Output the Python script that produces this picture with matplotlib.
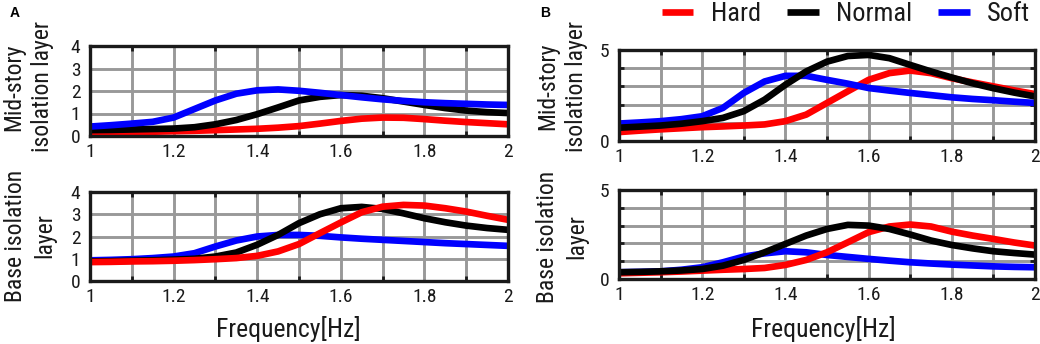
import matplotlib
matplotlib.use("Agg")
import matplotlib.pyplot as plt
from matplotlib.ticker import FixedLocator, FixedFormatter

FONT = ['Liberation Sans', 'DejaVu Sans']
NARROW = ['Liberation Sans Narrow', 'Arial Narrow', 'Roboto Condensed',
          'Archivo Narrow', 'PT Sans Narrow', 'Liberation Sans', 'DejaVu Sans']
plt.rcParams['font.family'] = FONT

freq = [1.00, 1.05, 1.10, 1.15, 1.20, 1.25, 1.30, 1.35, 1.40, 1.45, 1.50,
        1.55, 1.60, 1.65, 1.70, 1.75, 1.80, 1.85, 1.90, 1.95, 2.00]

# Panel A, mid-story isolation layer
a_mid_hard = [0.15, 0.16, 0.17, 0.19, 0.21, 0.23, 0.26, 0.29, 0.32, 0.37, 0.44,
              0.55, 0.67, 0.77, 0.82, 0.81, 0.75, 0.68, 0.62, 0.57, 0.52]
a_mid_normal = [0.26, 0.27, 0.29, 0.31, 0.33, 0.39, 0.52, 0.71, 0.97, 1.27, 1.58,
                1.74, 1.82, 1.79, 1.68, 1.53, 1.38, 1.24, 1.13, 1.06, 1.02]
a_mid_soft = [0.42, 0.48, 0.55, 0.63, 0.82, 1.20, 1.58, 1.88, 2.03, 2.07, 2.01,
              1.92, 1.82, 1.72, 1.63, 1.56, 1.50, 1.46, 1.43, 1.40, 1.38]

# Panel A, base isolation layer
a_base_hard = [0.85, 0.86, 0.88, 0.89, 0.91, 0.94, 0.98, 1.03, 1.13, 1.33, 1.66,
               2.15, 2.63, 3.09, 3.34, 3.42, 3.39, 3.27, 3.12, 2.93, 2.75]
a_base_normal = [0.88, 0.89, 0.91, 0.93, 0.96, 1.00, 1.10, 1.28, 1.63, 2.07, 2.60,
                 3.00, 3.27, 3.33, 3.24, 3.04, 2.82, 2.64, 2.49, 2.38, 2.30]
a_base_soft = [0.93, 0.95, 0.98, 1.03, 1.10, 1.25, 1.55, 1.82, 2.00, 2.07, 2.07,
               2.03, 1.96, 1.90, 1.85, 1.80, 1.75, 1.70, 1.66, 1.62, 1.58]

# Panel B, mid-story isolation layer
b_mid_hard = [0.49, 0.57, 0.64, 0.70, 0.76, 0.80, 0.85, 0.91, 1.09, 1.45, 2.09,
              2.73, 3.36, 3.73, 3.87, 3.73, 3.45, 3.22, 3.00, 2.78, 2.58]
b_mid_normal = [0.73, 0.79, 0.85, 0.95, 1.09, 1.27, 1.64, 2.27, 3.09, 3.82, 4.36,
                4.67, 4.73, 4.55, 4.18, 3.82, 3.49, 3.17, 2.90, 2.66, 2.45]
b_mid_soft = [0.96, 1.02, 1.09, 1.20, 1.36, 1.82, 2.64, 3.27, 3.58, 3.58, 3.36,
              3.15, 2.91, 2.77, 2.64, 2.52, 2.40, 2.31, 2.24, 2.16, 2.09]

# Panel B, base isolation layer
b_base_hard = [0.32, 0.35, 0.38, 0.42, 0.47, 0.52, 0.56, 0.62, 0.79, 1.07, 1.50,
               2.06, 2.63, 2.95, 3.06, 2.95, 2.66, 2.44, 2.25, 2.05, 1.88]
b_base_normal = [0.38, 0.40, 0.43, 0.48, 0.56, 0.75, 1.07, 1.50, 1.97, 2.44, 2.81,
                 3.04, 3.00, 2.81, 2.50, 2.16, 1.91, 1.72, 1.56, 1.46, 1.37]
b_base_soft = [0.38, 0.40, 0.43, 0.52, 0.66, 0.94, 1.26, 1.44, 1.56, 1.50, 1.35,
               1.24, 1.13, 1.03, 0.94, 0.87, 0.81, 0.76, 0.71, 0.68, 0.66]

series_names = ['Hard', 'Normal', 'Soft']
series_colors = {'Hard': '#ff0000', 'Normal': '#000000', 'Soft': '#0000ff'}

x_major = [1.0, 1.2, 1.4, 1.6, 1.8, 2.0]
x_major_labels = ['1', '1.2', '1.4', '1.6', '1.8', '2']
x_minor = [1.1, 1.2, 1.3, 1.4, 1.5, 1.6, 1.7, 1.8, 1.9]

a_y_major = [0, 1, 2, 3, 4]
a_y_labels = ['0', '1', '2', '3', '4']
b_y_major = [0, 5]
b_y_labels = ['0', '5']
b_y_minor = [1, 2, 3, 4]

W, H = 1040, 344
fig = plt.figure(figsize=(W / 100, H / 100), dpi=100)


def px_axes(l, t, r, b):
    return fig.add_axes([l / W, 1 - b / H, (r - l) / W, (b - t) / H])


GRID = '#999999'
INK = '#1a1a1a'


def style(ax, ymax, ymajor, ylabels, yminor):
    ax.set_xlim(1, 2)
    ax.set_ylim(0, ymax)
    ax.xaxis.set_major_locator(FixedLocator(x_major))
    ax.xaxis.set_major_formatter(FixedFormatter(x_major_labels))
    ax.xaxis.set_minor_locator(FixedLocator(x_minor))
    ax.yaxis.set_major_locator(FixedLocator(ymajor))
    ax.yaxis.set_major_formatter(FixedFormatter(ylabels))
    ax.yaxis.set_minor_locator(FixedLocator(yminor))
    for s in ax.spines.values():
        s.set_linewidth(2.4)
        s.set_color(INK)
        s.set_zorder(5)
    ax.tick_params(which='both', direction='in', top=True, right=True,
                   color=INK, width=2.0, labelsize=13, labelcolor=INK)
    ax.tick_params(which='major', length=0, pad=5)
    ax.tick_params(which='minor', length=3.5)
    ax.tick_params(axis='y', which='major', pad=7)
    for lab in ax.get_xticklabels() + ax.get_yticklabels():
        lab.set_family(NARROW)
        lab.set_fontsize(14)
    ax.grid(True, which='both', color=GRID, linewidth=2.1, zorder=0)
    ax.set_axisbelow(True)


def draw(ax, data, order):
    handles = {}
    for name in order:
        ln, = ax.plot(freq, data[name], color=series_colors[name], lw=4.8,
                      solid_capstyle='butt', solid_joinstyle='round',
                      label=name, zorder=3)
        handles[name] = ln
    return handles


ax_a1 = px_axes(90, 46, 508, 136)
ax_a2 = px_axes(90, 192, 508, 281)
ax_b1 = px_axes(619, 50, 1035, 141)
ax_b2 = px_axes(619, 190, 1035, 279)

style(ax_a1, 4, a_y_major, a_y_labels, a_y_major[1:-1])
style(ax_a2, 4, a_y_major, a_y_labels, a_y_major[1:-1])
style(ax_b1, 5, b_y_major, b_y_labels, b_y_minor)
style(ax_b2, 5, b_y_major, b_y_labels, b_y_minor)

draw(ax_a1, {'Hard': a_mid_hard, 'Normal': a_mid_normal, 'Soft': a_mid_soft},
     ['Hard', 'Normal', 'Soft'])
draw(ax_a2, {'Hard': a_base_hard, 'Normal': a_base_normal, 'Soft': a_base_soft},
     ['Soft', 'Normal', 'Hard'])
h = draw(ax_b1, {'Hard': b_mid_hard, 'Normal': b_mid_normal, 'Soft': b_mid_soft},
         ['Hard', 'Soft', 'Normal'])
draw(ax_b2, {'Hard': b_base_hard, 'Normal': b_base_normal, 'Soft': b_base_soft},
     ['Soft', 'Hard', 'Normal'])

# y labels
ylab_kw = dict(rotation=90, ha='center', va='center', multialignment='center',
               fontsize=17, linespacing=1.32, color=INK, family=NARROW)
fig.text(28 / W, 1 - 87 / H, 'Mid-story\nisolation layer', **ylab_kw)
fig.text(30 / W, 1 - 236 / H, 'Base isolation\nlayer', **ylab_kw)
fig.text(562 / W, 1 - 86 / H, 'Mid-story\nisolation layer', **ylab_kw)
fig.text(562 / W, 1 - 237 / H, 'Base isolation\nlayer', **ylab_kw)

# x labels
xlab_kw = dict(ha='center', va='center', fontsize=18.5, color=INK, family=NARROW)
fig.text(288 / W, 1 - 329 / H, 'Frequency[Hz]', **xlab_kw)
fig.text(823 / W, 1 - 329 / H, 'Frequency[Hz]', **xlab_kw)

# panel letters
fig.text(15 / W, 1 - 13 / H, 'A', ha='center', va='center', fontsize=10,
         fontweight='bold')
fig.text(545 / W, 1 - 13 / H, 'B', ha='center', va='center', fontsize=10,
         fontweight='bold')

# legend
leg = fig.legend([h[n] for n in series_names], series_names, loc='center',
                 bbox_to_anchor=(846 / W, 1 - 14 / H), ncol=3, frameon=False,
                 prop={'family': NARROW, 'size': 19},
                 handlelength=1.2, handletextpad=0.65,
                 columnspacing=1.0, borderpad=0, borderaxespad=0)
for t in leg.get_texts():
    t.set_color(INK)

fig.savefig('out.png', dpi=100)
